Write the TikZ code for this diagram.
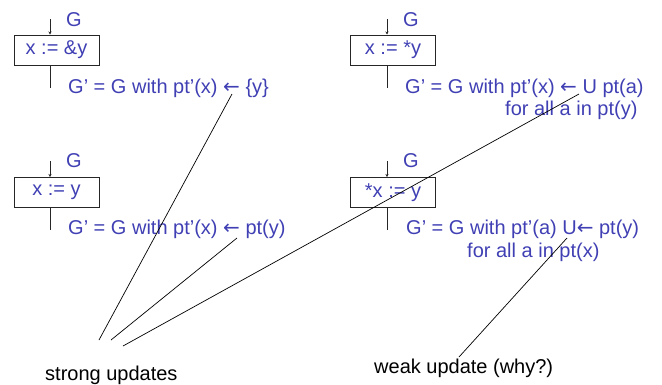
\documentclass[tikz,border=0pt]{standalone}
\usepackage{fontspec}
\setmainfont{Liberation Sans}
\newfontfamily\arrfont{DejaVu Sans}
\newcommand{\larr}{{\arrfont ←}}
\usetikzlibrary{arrows.meta}
\definecolor{txtblue}{RGB}{64,64,180}
\begin{document}
\begin{tikzpicture}[x=1pt,y=-1pt,
  lbl/.style={inner sep=0pt, anchor=base west, font=\fontsize{20}{24}\selectfont},
  bl/.style={lbl, text=txtblue},
  stmt/.style={draw=black!85, line width=1pt, minimum width=85pt, minimum height=30pt,
    inner sep=0pt, text=txtblue, font=\fontsize{20}{24}\selectfont},
  flow/.style={draw=black!85, line width=0.9pt},
  inflow/.style={flow, -{Stealth[length=3pt,width=3pt]}},
  pointer/.style={draw=black, line width=0.7pt}]
\useasboundingbox (0,0) rectangle (662,384);

% statement 1
\node[stmt] (s1) at (56.5,50) {x := \&y};
\coordinate (i1) at (50,19);
\coordinate (o1) at (50,88);
\draw[inflow] (i1) -- (i1 |- s1.north);
\draw[flow] (o1 |- s1.south) -- (o1);
\node[bl] (g1) at (66,26) {G};
\node[bl] (r1) at (68,93) {G’ = G with pt’(x) \larr{} \{y\}};

% statement 2
\node[stmt] (s2) at (393,50) {x := *y};
\coordinate (i2) at (387,19);
\coordinate (o2) at (387,88);
\draw[inflow] (i2) -- (i2 |- s2.north);
\draw[flow] (o2 |- s2.south) -- (o2);
\node[bl] (g2) at (403,26) {G};
\node[bl] (r2) at (405,93) {G’ = G with pt’(x) \larr{} U pt(a)};
\node[bl] (r2b) at (505,115) {for all a in pt(y)};

% statement 3
\node[stmt] (s3) at (56.5,192.5) {x := y};
\coordinate (i3) at (50,161);
\coordinate (o3) at (50,230);
\draw[inflow] (i3) -- (i3 |- s3.north);
\draw[flow] (o3 |- s3.south) -- (o3);
\node[bl] (g3) at (66,167) {G};
\node[bl] (r3) at (68,234) {G’ = G with pt’(x) \larr{} pt(y)};

% statement 4
\node[stmt] (s4) at (393,192.5) {*x := y};
\coordinate (i4) at (387,161);
\coordinate (o4) at (387,230);
\draw[inflow] (i4) -- (i4 |- s4.north);
\draw[flow] (o4 |- s4.south) -- (o4);
\node[bl] (g4) at (403,167) {G};
\node[bl] (r4) at (406,234) {G’ = G with pt’(a) U\larr{} pt(y)};
\node[bl] (r4b) at (467,257) {for all a in pt(x)};

% annotations
\node[lbl] (strong) at (45,380) {strong updates};
\node[lbl] (weak) at (374,373) {weak update (why?)};

\coordinate (p1a) at (99,340);  \coordinate (p1b) at (232,94);
\coordinate (p2a) at (111,340); \coordinate (p2b) at (237,238);
\coordinate (p3a) at (123,346); \coordinate (p3b) at (579,94);
\coordinate (wa) at (459,357);  \coordinate (wb) at (567,238);
\draw[pointer] (p1a) -- (p1b);
\draw[pointer] (p2a) -- (p2b);
\draw[pointer] (p3a) -- (p3b);
\draw[pointer] (wa) -- (wb);
\end{tikzpicture}
\end{document}
